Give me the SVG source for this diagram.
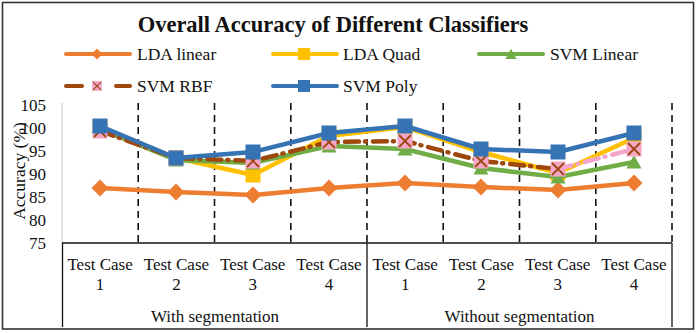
<svg xmlns="http://www.w3.org/2000/svg" xmlns:xlink="http://www.w3.org/1999/xlink" width="697" height="333" viewBox="0 0 697 333">
<style>
text{font-family:"Liberation Serif","Times New Roman",serif;fill:#111}
.title{font-size:22.5px;font-weight:bold;text-anchor:middle}
.leg{font-size:17.5px}
.tick{font-size:17px;text-anchor:end}
.cat{font-size:17px;text-anchor:middle}
.grid{stroke:#111;stroke-width:1.6;stroke-dasharray:7 5;fill:none}
.tbl{stroke:#111;stroke-width:1.3;fill:none}
.s{fill:none;stroke-width:4.5;stroke-linejoin:round;stroke-linecap:round}
.lda{stroke:#ED7D31}
.quad{stroke:#FFC000}
.svl{stroke:#70AD47}
.rbf{stroke:#9E480E;stroke-dasharray:14 6 1 7}
.rbfp{stroke:#F4A6C8;stroke-dasharray:14 6 1 7}
.poly{stroke:#3673B5}
</style>
<defs>
<path id="dia" d="M0,-8.5 L8.5,0 L0,8.5 L-8.5,0 Z" fill="#ED7D31"/>
<rect id="sqy" x="-7.5" y="-7.5" width="15" height="15" fill="#FFC000"/>
<path id="tri" d="M0,-7 L7.5,6.5 L-7.5,6.5 Z" fill="#70AD47"/>
<g id="xsq"><rect x="-7.5" y="-7.5" width="15" height="15" fill="#F4A6C8"/><path d="M-6,-6 L6,6 M6,-6 L-6,6" stroke="#9E480E" stroke-width="1.8"/></g>
<rect id="sqb" x="-7.5" y="-7.5" width="15" height="15" fill="#3673B5"/>
</defs>
<rect x="2.5" y="2.5" width="691" height="326.5" fill="#fff" stroke="#333" stroke-width="1.6"/>
<text class="title" x="333" y="32">Overall Accuracy of Different Classifiers</text>
<g id="legend">
<line class="s lda" x1="66" y1="54" x2="130" y2="54" style="stroke-width:4"/>
<use href="#dia" transform="translate(97,54) scale(0.65)"/>
<text class="leg" x="137" y="60">LDA linear</text>
<line class="s quad" x1="273" y1="54" x2="337" y2="54" style="stroke-width:4"/>
<use href="#sqy" transform="translate(304,54) scale(0.8)"/>
<text class="leg" x="343" y="60">LDA Quad</text>
<line class="s svl" x1="479" y1="54" x2="543" y2="54" style="stroke-width:4"/>
<use href="#tri" transform="translate(511,54) scale(0.75)"/>
<text class="leg" x="550" y="60">SVM Linear</text>
<path d="M66,86 H82 M116,86 H130" class="s" stroke="#9E480E" style="stroke-width:4"/>
<use href="#xsq" transform="translate(97,86) scale(0.65)"/>
<text class="leg" x="137" y="92">SVM RBF</text>
<line class="s poly" x1="273" y1="86" x2="337" y2="86" style="stroke-width:4"/>
<use href="#sqb" transform="translate(304,86) scale(0.8)"/>
<text class="leg" x="343" y="92">SVM Poly</text>
</g>
<g id="axes">
<line x1="62" y1="103" x2="62" y2="243" stroke="#cfcfcf" stroke-width="1.2"/>
<text class="tick" x="46" y="111">105</text>
<text class="tick" x="46" y="134">100</text>
<text class="tick" x="46" y="157">95</text>
<text class="tick" x="46" y="180">90</text>
<text class="tick" x="46" y="203">85</text>
<text class="tick" x="46" y="226">80</text>
<text class="tick" x="46" y="249">75</text>
<text class="leg" text-anchor="middle" transform="translate(25,171) rotate(-90)">Accuracy (%)</text>
</g>
<g id="grid">
<line class="grid" x1="138.2" y1="103" x2="138.2" y2="243"/>
<line class="grid" x1="214.5" y1="103" x2="214.5" y2="243"/>
<line class="grid" x1="290.8" y1="103" x2="290.8" y2="243"/>
<line class="grid" x1="367" y1="103" x2="367" y2="243"/>
<line class="grid" x1="443.2" y1="103" x2="443.2" y2="243"/>
<line class="grid" x1="519.5" y1="103" x2="519.5" y2="243"/>
<line class="grid" x1="595.8" y1="103" x2="595.8" y2="243"/>
<line class="grid" x1="672" y1="103" x2="672" y2="243"/>
</g>
<g id="table">
<line class="tbl" x1="62" y1="243" x2="672" y2="243"/>
<line class="tbl" x1="62.5" y1="243" x2="62.5" y2="327"/>
<line class="tbl" x1="367" y1="243" x2="367" y2="327"/>
<line class="tbl" x1="672" y1="243" x2="672" y2="327"/>
<text class="cat" x="100.1" y="270">Test Case</text>
<text class="cat" x="176.4" y="270">Test Case</text>
<text class="cat" x="252.7" y="270">Test Case</text>
<text class="cat" x="328.9" y="270">Test Case</text>
<text class="cat" x="405.2" y="270">Test Case</text>
<text class="cat" x="481.4" y="270">Test Case</text>
<text class="cat" x="557.7" y="270">Test Case</text>
<text class="cat" x="633.9" y="270">Test Case</text>
<text class="cat" x="100.1" y="290">1</text>
<text class="cat" x="176.4" y="290">2</text>
<text class="cat" x="252.7" y="290">3</text>
<text class="cat" x="328.9" y="290">4</text>
<text class="cat" x="405.2" y="290">1</text>
<text class="cat" x="481.4" y="290">2</text>
<text class="cat" x="557.7" y="290">3</text>
<text class="cat" x="633.9" y="290">4</text>
<text class="cat" x="215" y="322">With segmentation</text>
<text class="cat" x="519.5" y="322">Without segmentation</text>
</g>
<g id="series">
<g id="lda-linear">
<polyline class="s lda" points="100,188 176,192 253,195 329,188 405,183 481,187 558,190 634,183"/>
<use href="#dia" x="100" y="188"/><use href="#dia" x="176" y="192"/><use href="#dia" x="253" y="195"/><use href="#dia" x="329" y="188"/><use href="#dia" x="405" y="183"/><use href="#dia" x="481" y="187"/><use href="#dia" x="558" y="190"/><use href="#dia" x="634" y="183"/>
</g>
<g id="lda-quad">
<polyline class="s quad" points="100,127 176,158 253,175 329,136 405,127 481,152 558,173 634,138"/>
<use href="#sqy" x="100" y="127"/><use href="#sqy" x="176" y="158"/><use href="#sqy" x="253" y="175"/><use href="#sqy" x="329" y="136"/><use href="#sqy" x="405" y="127"/><use href="#sqy" x="481" y="152"/><use href="#sqy" x="558" y="173"/><use href="#sqy" x="634" y="138"/>
</g>
<g id="svm-linear">
<polyline class="s svl" points="100,129 176,160 253,163 329,146 405,149 481,168 558,177 634,162"/>
<use href="#tri" x="100" y="129"/><use href="#tri" x="176" y="160"/><use href="#tri" x="253" y="163"/><use href="#tri" x="329" y="146"/><use href="#tri" x="405" y="149"/><use href="#tri" x="481" y="168"/><use href="#tri" x="558" y="177"/><use href="#tri" x="634" y="162"/>
</g>
<g id="svm-rbf">
<polyline class="s rbf" points="100,131 176,158 253,161 329,142 405,141 481,161 558,169"/>
<line class="s rbfp" x1="558" y1="169" x2="634" y2="149"/>
<use href="#xsq" x="100" y="131"/><use href="#xsq" x="176" y="158"/><use href="#xsq" x="253" y="161"/><use href="#xsq" x="329" y="142"/><use href="#xsq" x="405" y="141"/><use href="#xsq" x="481" y="161"/><use href="#xsq" x="558" y="169"/><use href="#xsq" x="634" y="149"/>
</g>
<g id="svm-poly">
<polyline class="s poly" points="100,126 176,158 253,152 329,133 405,126 481,149 558,152 634,133"/>
<use href="#sqb" x="100" y="126"/><use href="#sqb" x="176" y="158"/><use href="#sqb" x="253" y="152"/><use href="#sqb" x="329" y="133"/><use href="#sqb" x="405" y="126"/><use href="#sqb" x="481" y="149"/><use href="#sqb" x="558" y="152"/><use href="#sqb" x="634" y="133"/>
</g>
</g>
</svg>
